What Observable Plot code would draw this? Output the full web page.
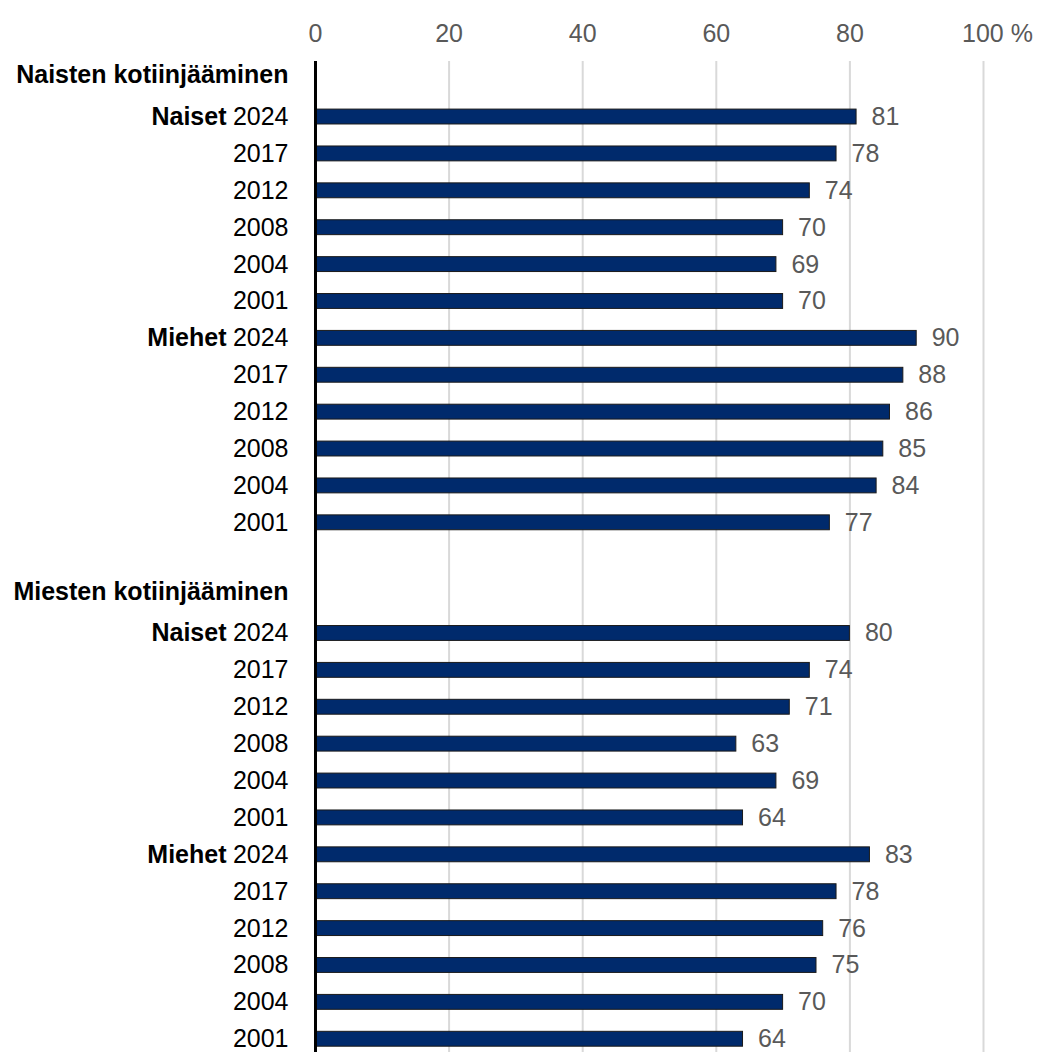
<!DOCTYPE html>
<html><head><meta charset="utf-8">
<script src="https://cdn.jsdelivr.net/npm/d3@7"></script>
<script src="https://cdn.jsdelivr.net/npm/@observablehq/plot@0.6"></script>
<style>body{margin:0;background:#fff}</style>
</head><body><div id="chart"></div>
<script>
const groups = ["Naisten kotiinjääminen", "Miesten kotiinjääminen"];
const genders = ["Naiset", "Miehet"];
const years = ["2024", "2017", "2012", "2008", "2004", "2001"];
const naistenKotiNaiset = [81, 78, 74, 70, 69, 70];
const naistenKotiMiehet = [90, 88, 86, 85, 84, 77];
const miestenKotiNaiset = [80, 74, 71, 63, 69, 64];
const miestenKotiMiehet = [83, 78, 76, 75, 70, 64];
const xTicks = [0, 20, 40, 60, 80, 100];

const seriesByGroup = [[naistenKotiNaiset, naistenKotiMiehet], [miestenKotiNaiset, miestenKotiMiehet]];
const headers = [], bars = [];
let row = 0;
groups.forEach((g, gi) => {
  if (gi > 0) row++;
  headers.push({row, label: g}); row++;
  genders.forEach((s, si) => {
    years.forEach((yr, yi) => {
      bars.push({row, gender: yi === 0 ? s : null, year: yr, value: seriesByGroup[gi][si][yi]});
      row++;
    });
  });
});
const rowDomain = d3.range(row);

const chart = Plot.plot({
  width: 1037, height: 1052,
  marginLeft: 315, marginRight: 54, marginTop: 61, marginBottom: 0,
  style: {fontFamily: "'Liberation Sans', Arial, sans-serif", fontSize: "25px", background: "#fff"},
  x: {domain: [0, 100], axis: null},
  y: {type: "band", domain: rowDomain, range: [61.2, 1057.2], padding: 0, round: false, axis: null},
  marks: [
    Plot.ruleX(xTicks.filter(d => d > 0), {stroke: "#d9d9d9", strokeWidth: 2}),
    Plot.barX(bars, {x: "value", y: "row", fill: "#002A6C", stroke: "#1a1a1a", strokeWidth: 1, insetTop: 11, insetBottom: 11}),
    Plot.ruleX([0], {stroke: "#000", strokeWidth: 3}),
    Plot.text(bars, {x: "value", y: "row", text: d => String(d.value), textAnchor: "start", dx: 15, fill: "#595959", fontSize: 25}),
    Plot.text(bars, {x: 0, y: "row", text: "year", textAnchor: "end", dx: -27, fill: "#000", fontSize: 25}),
    Plot.text(bars.filter(d => d.gender), {x: 0, y: "row", text: "gender", textAnchor: "end", dx: -89, fontWeight: "bold", fill: "#000", fontSize: 25}),
    Plot.text(headers, {x: 0, y: "row", text: "label", textAnchor: "end", dx: -27, dy: -5, fontWeight: "bold", fill: "#000", fontSize: 25}),
    Plot.text(xTicks.filter(d => d < 100), {x: d => d, text: d => String(d), frameAnchor: "top", dy: -37, fill: "#595959", fontSize: 25}),
    Plot.text(xTicks.filter(d => d === 100), {x: d => d, text: d => d + " %", frameAnchor: "top", dy: -37, dx: 14, fill: "#595959", fontSize: 25})
  ]
});
document.getElementById("chart").appendChild(chart);
</script>
</body></html>
